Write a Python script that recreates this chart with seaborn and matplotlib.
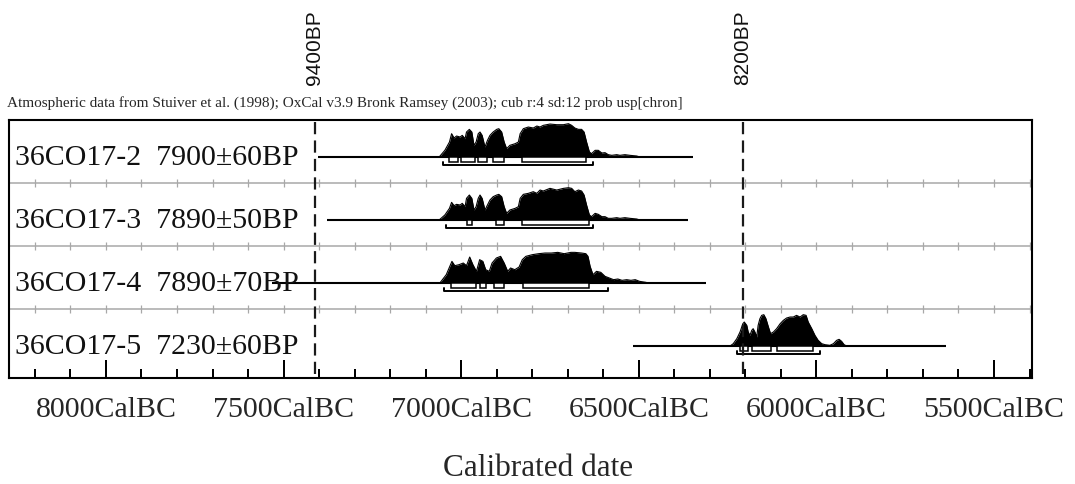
import numpy as np
import pandas as pd
import matplotlib
matplotlib.use("Agg")
import matplotlib.pyplot as plt
import matplotlib.transforms as mtransforms
from matplotlib.patches import Rectangle
import seaborn as sns

# ---------------- data ----------------
samples = ["36CO17-2", "36CO17-3", "36CO17-4", "36CO17-5"]
c14_ages = ["7900±60BP", "7890±50BP", "7890±70BP", "7230±60BP"]

years_1 = [7062, 7046, 7033, 7027, 7020, 7013, 7003, 6997, 6989, 6985,
           6977, 6970, 6964, 6958, 6952, 6947, 6941, 6933, 6926, 6919,
           6910, 6900, 6894, 6886, 6879, 6872, 6863, 6848, 6839, 6834,
           6825, 6811, 6797, 6787, 6778, 6769, 6750, 6731, 6712, 6698,
           6689, 6680, 6670, 6661, 6654, 6647, 6639, 6633, 6623, 6614,
           6604, 6595, 6586, 6576, 6562, 6553, 6539, 6525, 6506, 6497]
prob_1 = [0, 20, 45, 70, 57, 63, 60, 65, 55, 75,
          83, 75, 35, 45, 70, 75, 65, 30, 50, 65,
          75, 83, 85, 75, 45, 25, 35, 40, 45, 70,
          85, 90, 87, 93, 90, 95, 99, 97, 97, 100,
          95, 87, 83, 83, 75, 45, 15, 10, 20, 20,
          12, 13, 7, 5, 7, 5, 7, 5, 3, 0]

years_2 = [7062, 7046, 7033, 7027, 7020, 7013, 7003, 6997, 6989, 6985,
           6977, 6970, 6964, 6958, 6952, 6947, 6941, 6933, 6926, 6919,
           6910, 6900, 6894, 6886, 6879, 6872, 6863, 6848, 6839, 6834,
           6825, 6811, 6797, 6787, 6778, 6769, 6750, 6731, 6712, 6698,
           6689, 6680, 6670, 6661, 6654, 6647, 6639, 6633, 6623, 6614,
           6604, 6595, 6586, 6576, 6562, 6553, 6539, 6525, 6506, 6497]
prob_2 = [0, 15, 35, 53, 43, 47, 45, 50, 40, 65,
          75, 65, 30, 40, 65, 75, 65, 30, 45, 60,
          70, 75, 77, 70, 40, 20, 30, 35, 40, 65,
          77, 80, 85, 80, 90, 87, 95, 90, 95, 97,
          95, 85, 90, 87, 75, 45, 15, 10, 20, 17,
          10, 10, 5, 5, 7, 5, 7, 5, 3, 0]

years_3 = [7060, 7042, 7026, 7018, 7006, 6994, 6985, 6976, 6967, 6957,
           6948, 6939, 6931, 6921, 6913, 6901, 6889, 6879, 6869, 6861,
           6849, 6837, 6828, 6818, 6800, 6782, 6764, 6746, 6728, 6710,
           6691, 6680, 6661, 6649, 6643, 6637, 6629, 6619, 6607, 6595,
           6583, 6571, 6559, 6547, 6534, 6522, 6510, 6498, 6480, 6474]
prob_3 = [0, 25, 65, 52, 55, 60, 52, 78, 55, 35,
          70, 65, 40, 35, 60, 75, 80, 60, 35, 45,
          40, 48, 70, 80, 85, 88, 90, 90, 92, 88,
          92, 92, 90, 88, 80, 50, 25, 35, 32, 20,
          15, 10, 12, 8, 10, 8, 10, 5, 2, 0]

years_4 = [6243, 6234, 6224, 6215, 6207, 6203, 6196, 6192, 6187, 6182,
           6178, 6173, 6168, 6164, 6159, 6154, 6148, 6142, 6135, 6129,
           6121, 6112, 6102, 6093, 6084, 6074, 6065, 6056, 6046, 6037,
           6029, 6023, 6013, 6004, 5995, 5985, 5976, 5962, 5952, 5943,
           5936, 5929, 5922, 5915]
prob_4 = [0, 7, 22, 42, 67, 72, 62, 42, 32, 47,
          52, 42, 27, 62, 82, 92, 94, 82, 57, 37,
          42, 52, 67, 77, 84, 87, 87, 92, 87, 94,
          92, 72, 52, 32, 17, 7, 4, 2, 7, 17,
          20, 14, 4, 0]

# calibration range drawn as the base line (cal BC)
line_ranges = [(7403, 6347), (7378, 6362), (7533, 6311), (6517, 5635)]
# 68.2% ranges (boxes) and 95.4% range (bracket), cal BC
hpd68 = [
    [(7033, 7010), (7001, 6961), (6952, 6928), (6911, 6880), (6830, 6650)],
    [(6983, 6969), (6902, 6880), (6830, 6639)],
    [(7030, 6957), (6948, 6930), (6909, 6879), (6827, 6640)],
    [(6215, 6192), (6182, 6129), (6112, 6010)],
]
hpd95 = [(7050, 6628), (7043, 6628), (7048, 6586), (6223, 5990)]

event_years = [7412, 6207]
event_labels = ["9400BP", "8200BP"]

major_ticks = [8000, 7500, 7000, 6500, 6000, 5500]
tick_labels = ["8000CalBC", "7500CalBC", "7000CalBC", "6500CalBC", "6000CalBC", "5500CalBC"]

header = ("Atmospheric data from Stuiver et al. (1998); OxCal v3.9 Bronk Ramsey (2003); "
          "cub r:4 sd:12 prob usp[chron]")
x_title = "Calibrated date"

years_all = [years_1, years_2, years_3, years_4]
probs_all = [prob_1, prob_2, prob_3, prob_4]

# ---------------- layout ----------------
W, H = 1075, 485
ROW = 63.0          # px per row
BASE = 37.0         # baseline offset within row
PSCALE = 0.333      # px per probability unit
YMAX = 258.0

sns.set_theme(style="white")
plt.rcParams["font.family"] = ["Liberation Serif", "DejaVu Serif"]

fig = plt.figure(figsize=(W / 100, H / 100), dpi=100)
ax = fig.add_axes([9 / W, (H - 379) / H, (1032 - 9) / W, 258 / H])
ax.set_xlim(8273, 5393)
ax.set_ylim(YMAX, 0)

rows = []
for i, (yr, pr) in enumerate(zip(years_all, probs_all)):
    base = BASE + ROW * i
    for a, b in zip(yr, pr):
        rows.append({"sample": samples[i], "year": a, "y": base - b * PSCALE})
df = pd.DataFrame(rows)

# grey row separators with small ticks
grid_ticks = np.arange(8200, 5399, -100)
for k in range(1, 4):
    ax.axhline(ROW * k, color="#a8a8a8", lw=1.1, zorder=1)
    ax.vlines(grid_ticks, ROW * k - 4, ROW * k + 4, color="#a8a8a8", lw=0.9, zorder=1)

for i in range(4):
    base = BASE + ROW * i
    sub = df[df["sample"] == samples[i]]
    ax.fill_between(sub["year"], base, sub["y"], color="black", lw=0, zorder=3)
    s, e = line_ranges[i]
    ax.plot([s, e], [base, base], color="black", lw=1.5, solid_capstyle="butt", zorder=4)
    for (a, b) in hpd68[i]:
        ax.add_patch(Rectangle((a, base), b - a, 4.5, facecolor="white",
                               edgecolor="black", lw=1.1, zorder=4))
    a, b = hpd95[i]
    ax.plot([a, a, b, b], [base + 4.5, base + 7.7, base + 7.7, base + 4.5],
            color="black", lw=1.4, zorder=4)
    ax.text(15 / W, base + 7, f"{samples[i]}  {c14_ages[i]}",
            transform=mtransforms.blended_transform_factory(fig.transFigure, ax.transData),
            fontsize=21.5, va="baseline", ha="left", color="#111111", zorder=5)

sns.lineplot(data=df, x="year", y="y", units="sample", estimator=None, sort=False,
             color="black", lw=0.8, legend=False, ax=ax, zorder=3)

# event lines
bt = mtransforms.blended_transform_factory(ax.transData, fig.transFigure)
for ey, lab in zip(event_years, event_labels):
    ax.plot([ey, ey], [2, YMAX - 2], color="#1a1a1a", lw=1.6,
            dashes=(5.5, 2.8), zorder=6)
    ax.text(ey, 1 - 85 / H, lab, rotation=90, ha="center", va="bottom",
            transform=bt, fontsize=15, family=["Liberation Sans", "DejaVu Sans"],
            color="#111111")

ax.set_xticks(major_ticks)
ax.set_xticklabels(tick_labels)
ax.set_xticks(np.arange(8200, 5399, -100), minor=True)
ax.set_yticks([])
ax.tick_params(axis="x", which="major", direction="in", length=13, width=1.44,
               color="black", labelsize=21.5, pad=13, bottom=True, top=False)
ax.tick_params(axis="x", which="minor", direction="in", length=6.5, width=1.44,
               color="black", bottom=True, top=False)
ax.set_xlabel("")
ax.set_ylabel("")
for sp in ax.spines.values():
    sp.set_color("black")
    sp.set_linewidth(1.5)
    sp.set_visible(True)

fig.text(7 / W, 1 - 107 / H, header, fontsize=11, va="baseline", ha="left")
fig.text(538 / W, 1 - 476 / H, x_title, fontsize=22.5, va="baseline", ha="center")

fig.savefig("out.png", dpi=100, facecolor="white")
